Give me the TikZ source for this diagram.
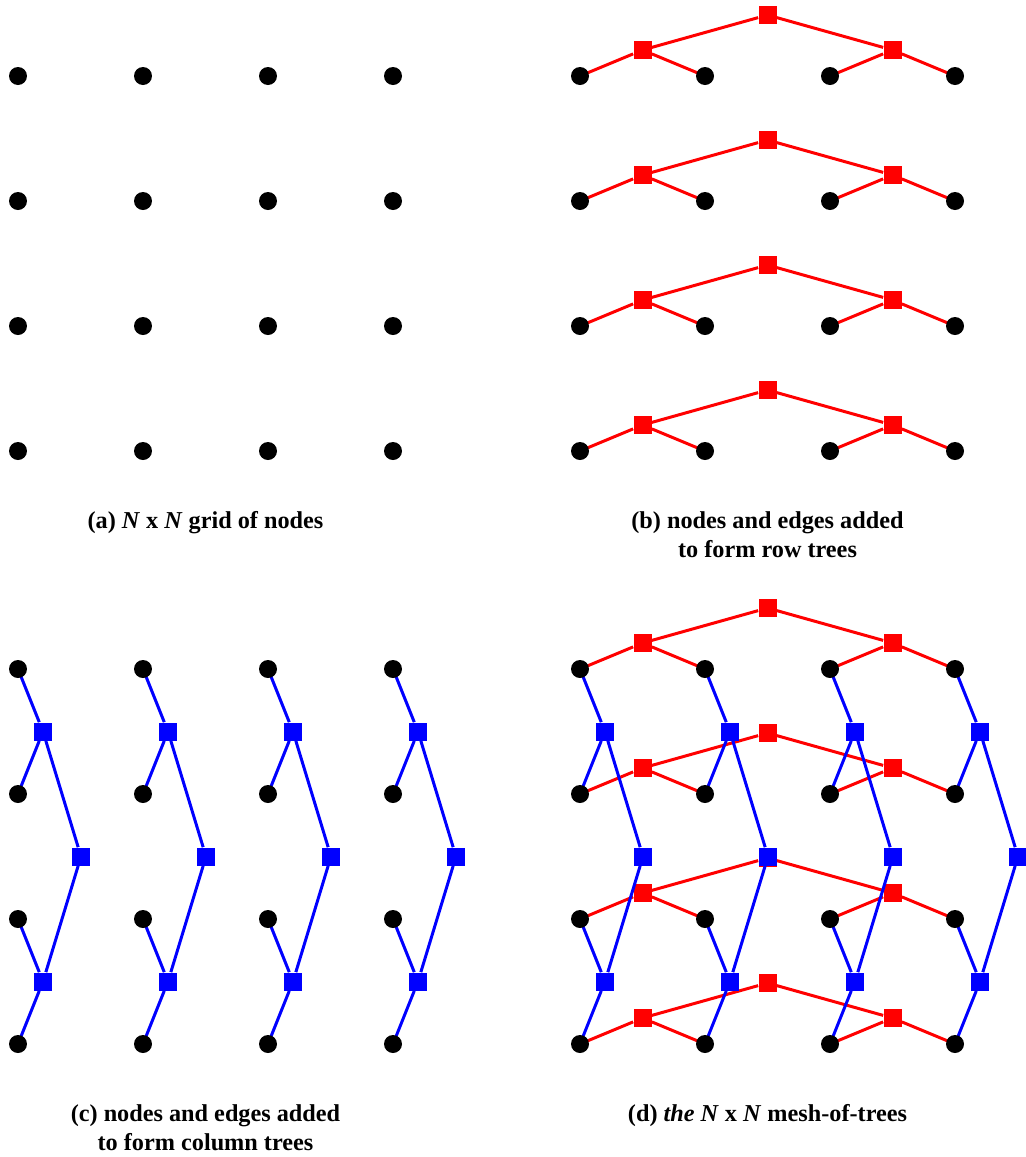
\documentclass[tikz,border=0pt]{standalone}
\usepackage{fontspec}
\setmainfont{Liberation Serif}

\tikzset{
  dot/.style={circle, fill=black, inner sep=0pt, minimum size=0.36cm},
  rsq/.style={rectangle, fill=red, inner sep=0pt, minimum size=0.36cm},
  bsq/.style={rectangle, fill=blue, inner sep=0pt, minimum size=0.36cm},
  redge/.style={red, line width=1.7pt},
  bedge/.style={blue, line width=1.7pt},
  captext/.style={font=\fontsize{13.8}{16.5}\selectfont\bfseries, align=center, anchor=base}
}

\begin{document}
\begin{tikzpicture}[x=0.02cm, y=-0.02cm]
    \useasboundingbox (0,0) rectangle (1026,1157);

    % grid positions of the four panels
    \foreach \p/\xo/\yo in {a/18/76, b/580/76, c/18/669, d/580/669}
      \foreach \i in {0,...,3}
        \foreach \j in {0,...,3}
          \coordinate (\p-\i-\j) at ({\xo+125*\i}, {\yo+125*\j});

    % --- row trees (panels b and d) ---
    \foreach \p/\xo/\yo in {b/580/76, d/580/669}
      \foreach \j in {0,...,3} {
        \node[rsq] (\p-r\j-1) at ({\xo+62.5}, {\yo+125*\j-26}) {};
        \node[rsq] (\p-r\j-2) at ({\xo+312.5}, {\yo+125*\j-26}) {};
        \node[rsq] (\p-r\j-0) at ({\xo+187.5}, {\yo+125*\j-61}) {};
        \draw[redge] (\p-0-\j) -- (\p-r\j-1) -- (\p-1-\j);
        \draw[redge] (\p-2-\j) -- (\p-r\j-2) -- (\p-3-\j);
        \draw[redge] (\p-r\j-1) -- (\p-r\j-0) -- (\p-r\j-2);
      }

    % --- column trees (panels c and d) ---
    \foreach \p/\xo/\yo in {c/18/669, d/580/669}
      \foreach \i in {0,...,3} {
        \node[bsq] (\p-c\i-1) at ({\xo+125*\i+25}, {\yo+62.5}) {};
        \node[bsq] (\p-c\i-2) at ({\xo+125*\i+25}, {\yo+312.5}) {};
        \node[bsq] (\p-c\i-0) at ({\xo+125*\i+63}, {\yo+187.5}) {};
        \draw[bedge] (\p-\i-0) -- (\p-c\i-1) -- (\p-\i-1);
        \draw[bedge] (\p-\i-2) -- (\p-c\i-2) -- (\p-\i-3);
        \draw[bedge] (\p-c\i-1) -- (\p-c\i-0) -- (\p-c\i-2);
      }

    % the N x N nodes on top
    \foreach \p in {a,b,c,d}
      \foreach \i in {0,...,3}
        \foreach \j in {0,...,3}
          \node[dot] (\p-n\i-\j) at (\p-\i-\j) {};

    % captions (base = last line)
    \node[captext] (capa) at (205.5, 528) {(a) \textit{N} x \textit{N} grid of nodes};
    \node[captext] (capb) at (767.5, 557) {(b) nodes and edges added\\to form row trees};
    \node[captext] (capc) at (205.5, 1150) {(c) nodes and edges added\\to form column trees};
    \node[captext] (capd) at (767.5, 1121) {(d) \textit{the N} x \textit{N} mesh-of-trees};

\end{tikzpicture}
\end{document}
